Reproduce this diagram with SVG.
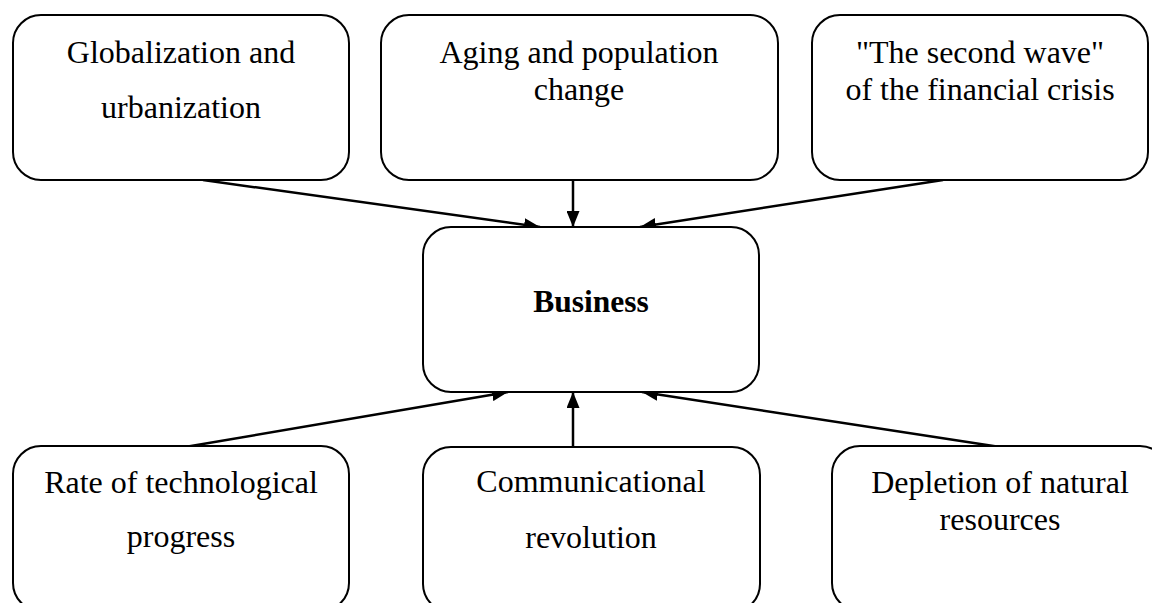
<svg xmlns="http://www.w3.org/2000/svg" width="1152" height="603" viewBox="0 0 1152 603">
<style>
.box{fill:#fff;stroke:#000;stroke-width:2}
.t{font-family:"Liberation Serif","Times New Roman",serif;font-size:32px;fill:#000;text-anchor:middle}
.b{font-weight:bold;font-size:31.5px}
.c{stroke:#000;stroke-width:2.5;fill:none;marker-end:url(#ah)}
</style>
<defs>
<marker id="ah" viewBox="0 0 16 13" refX="16" refY="6.5" markerWidth="16" markerHeight="13" markerUnits="userSpaceOnUse" orient="auto">
<path d="M0,0 L16,6.5 L0,13 z" fill="#000"/>
</marker>
</defs>
<rect width="1152" height="603" fill="#fff"/>
<g id="connectors">
<line class="c" x1="203" y1="180" x2="540" y2="227"/>
<line class="c" x1="573" y1="180" x2="573" y2="227"/>
<line class="c" x1="943" y1="180" x2="640" y2="227"/>
<line class="c" x1="185" y1="447" x2="508" y2="392"/>
<line class="c" x1="573" y1="447" x2="573" y2="392"/>
<line class="c" x1="1000" y1="447" x2="642" y2="392"/>
</g>
<g id="n1">
<rect class="box" x="13" y="15" width="336" height="165" rx="28"/>
<text class="t" x="181" y="63">Globalization and</text>
<text class="t" x="181" y="118">urbanization</text>
</g>
<g id="n2">
<rect class="box" x="381" y="15" width="397" height="165" rx="28"/>
<text class="t" x="579" y="63">Aging and population</text>
<text class="t" x="579" y="100">change</text>
</g>
<g id="n3">
<rect class="box" x="812" y="15" width="336" height="165" rx="28"/>
<text class="t" x="980" y="63">"The second wave"</text>
<text class="t" x="980" y="100">of the financial crisis</text>
</g>
<g id="business">
<rect class="box" x="423" y="227" width="336" height="165" rx="28"/>
<text class="t b" x="591" y="312">Business</text>
</g>
<g id="n4">
<rect class="box" x="13" y="446" width="336" height="165" rx="28"/>
<text class="t" x="181" y="493">Rate of technological</text>
<text class="t" x="181" y="547">progress</text>
</g>
<g id="n5">
<rect class="box" x="423" y="447" width="337" height="165" rx="28"/>
<text class="t" x="591" y="492">Communicational</text>
<text class="t" x="591" y="548">revolution</text>
</g>
<g id="n6">
<rect class="box" x="832" y="446" width="336" height="165" rx="28"/>
<text class="t" x="1000" y="493">Depletion of natural</text>
<text class="t" x="1000" y="530">resources</text>
</g>
</svg>
